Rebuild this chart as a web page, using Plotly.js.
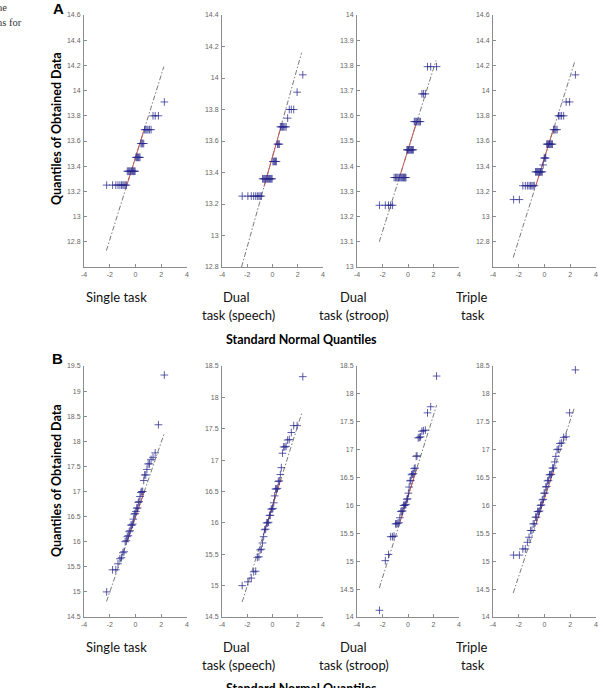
<!DOCTYPE html>
<html><head><meta charset="utf-8">
<script src="https://cdn.plot.ly/plotly-3.0.1.min.js"></script>
<style>html,body{margin:0;padding:0;background:#fff}#chart{width:603px;height:688px}</style>
</head><body><div id="chart"></div><script>
// Theoretical quantile positions
const q40 = [-2.24,-1.78,-1.53,-1.36,-1.21,-1.09,-0.98,-0.89,-0.80,-0.71,-0.64,-0.56,-0.49,-0.42,-0.35,-0.28,-0.22,-0.16,-0.09,-0.03,
             0.03,0.09,0.16,0.22,0.28,0.35,0.42,0.49,0.56,0.64,0.71,0.80,0.89,0.98,1.09,1.21,1.36,1.53,1.78,2.24];
const qWide = [-2.40,-1.95,-1.68,-1.49,-1.33,-1.20,-1.08,-0.98,-0.88,-0.79,-0.70,-0.62,-0.54,-0.46,-0.39,-0.31,-0.24,-0.17,-0.10,-0.03,
               0.03,0.10,0.17,0.24,0.31,0.39,0.46,0.54,0.62,0.70,0.79,0.88,0.98,1.08,1.20,1.33,1.49,1.68,1.95,2.40];

// Row A: quantiles of obtained data
const yA1 = [13.25,13.25,13.25,13.25,13.25,13.25,13.25,13.25,13.25,13.25,
             13.36,13.36,13.36,13.36,13.36,13.36,13.36,13.36,13.36,13.36,
             13.47,13.47,13.47,13.47,13.47,13.47,13.58,13.58,13.58,13.58,
             13.69,13.69,13.69,13.69,13.69,13.69,13.80,13.80,13.80,13.91];
const yA2 = [13.25,13.25,13.25,13.25,13.25,13.25,13.25,13.25,13.25,
             13.36,13.36,13.36,13.36,13.36,13.36,13.36,13.36,13.36,13.36,13.36,
             13.47,13.47,13.47,13.47,13.47,13.58,13.58,13.58,
             13.69,13.69,13.69,13.69,13.69,13.69,13.745,13.80,13.80,13.80,13.91,14.02];
const yA3 = [13.245,13.245,13.245,13.245,13.245,
             13.355,13.355,13.355,13.355,13.355,13.355,13.355,13.355,13.355,13.355,13.355,13.355,13.355,
             13.465,13.465,13.465,13.465,13.465,13.465,13.465,13.465,13.465,
             13.577,13.577,13.577,13.577,13.577,13.577,13.577,
             13.687,13.687,13.687,13.795,13.795,13.795];
const yA4 = [13.135,13.135,13.245,13.245,13.245,13.245,13.245,13.245,13.245,13.245,
             13.355,13.355,13.355,13.355,13.355,13.355,13.355,13.355,13.41,
             13.465,13.465,13.465,13.575,13.575,13.575,13.575,13.575,13.575,13.575,
             13.69,13.69,13.69,13.69,13.80,13.80,13.80,13.80,13.91,13.91,14.125];
// Row B
const yB1 = [15.00,15.44,15.44,15.56,15.66,15.68,15.78,15.80,16.00,16.02,
             16.10,16.12,16.20,16.22,16.33,16.33,16.35,16.45,16.55,16.56,
             16.60,16.67,16.67,16.78,16.80,16.90,16.98,17.00,17.00,17.22,
             17.33,17.33,17.44,17.55,17.55,17.64,17.68,17.77,18.33,19.32];
const yB2 = [15.00,15.06,15.12,15.22,15.23,15.45,15.46,15.57,15.58,15.68,
             15.78,15.89,15.90,16.00,16.00,16.01,16.12,16.12,16.22,16.22,
             16.23,16.32,16.43,16.54,16.54,16.55,16.66,16.67,16.77,16.88,
             17.11,17.21,17.21,17.22,17.32,17.33,17.44,17.55,17.55,18.33];
const yB3 = [14.12,15.01,15.12,15.44,15.44,15.45,15.67,15.67,15.68,15.69,
             15.78,15.89,15.90,15.90,16.00,16.00,16.01,16.02,16.11,16.12,
             16.22,16.33,16.44,16.45,16.55,16.56,16.57,16.66,16.67,16.88,
             16.89,17.21,17.22,17.23,17.33,17.34,17.35,17.66,17.77,18.32];
const yB4 = [15.11,15.11,15.22,15.22,15.34,15.43,15.55,15.55,15.67,15.67,
             15.79,15.79,15.89,15.89,15.90,16.00,16.01,16.10,16.11,16.22,
             16.22,16.33,16.34,16.44,16.45,16.55,16.55,16.56,16.67,16.67,
             16.78,16.88,17.00,17.01,17.11,17.12,17.22,17.23,17.66,18.43];

// Reference lines: dash-dot extent and red Q1-Q3 segment
const lineXA1 = [-2.26, 2.20], lineYA1 = [12.73, 14.19], redYA1 = [13.25, 13.69];
const lineXA2 = [-2.45, 2.30], lineYA2 = [12.80, 14.16], redYA2 = [13.31, 13.69];
const lineXA3 = [-2.25, 2.20], lineYA3 = [13.10, 13.82], redYA3 = [13.355, 13.575];
const lineXA4 = [-2.43, 2.38], lineYA4 = [12.675, 14.24], redYA4 = [13.245, 13.69];
const lineXB1 = [-2.25, 2.25], lineYB1 = [14.81, 18.17], redYB1 = [15.99, 16.99];
const lineXB2 = [-2.40, 2.30], lineYB2 = [14.74, 17.74], redYB2 = [15.84, 16.70];
const lineXB3 = [-2.25, 2.25], lineYB3 = [14.52, 17.80], redYB3 = [15.67, 16.65];
const lineXB4 = [-2.43, 2.33], lineYB4 = [14.43, 17.76], redYB4 = [15.66, 16.60];
const redX = [-0.674, 0.674];

// Axis ranges and ticks
const xTicks = [-4,-2,0,2,4];
const xTickText = ['-4','-2','0','2','4'];
const yRangeA1 = [12.6,14.6], yTicksA1 = [12.8,13,13.2,13.4,13.6,13.8,14,14.2,14.4,14.6];
const yRangeA2 = [12.8,14.4], yTicksA2 = [12.8,13,13.2,13.4,13.6,13.8,14,14.2,14.4];
const yRangeA3 = [13,14],     yTicksA3 = [13,13.1,13.2,13.3,13.4,13.5,13.6,13.7,13.8,13.9,14];
const yRangeA4 = [12.6,14.6], yTicksA4 = [12.8,13,13.2,13.4,13.6,13.8,14,14.2,14.4,14.6];
const yRangeB1 = [14.5,19.5], yTicksB1 = [14.5,15,15.5,16,16.5,17,17.5,18,18.5,19,19.5];
const yRangeB2 = [14.5,18.5], yTicksB2 = [14.5,15,15.5,16,16.5,17,17.5,18,18.5];
const yRangeB3 = [14,18.5],   yTicksB3 = [14,14.5,15,15.5,16,16.5,17,17.5,18,18.5];
const yRangeB4 = [14,18.5],   yTicksB4 = [14,14.5,15,15.5,16,16.5,17,17.5,18,18.5];

const taskLine1 = ['Single task','Dual','Dual','Triple'];
const taskLine2 = ['','task (speech)','task (stroop)','task'];
const xTitle = 'Standard Normal Quantiles';
const yTitle = 'Quantiles of Obtained Data';

const W = 603, H = 688;
const px = v => v / W, py = v => 1 - v / H;
const colPx = [[84,187],[222,323],[357,459],[493,596]];
const rowPx = [[15,267],[366,617]];

const panels = [
  {x:q40,   y:yA1, lx:lineXA1, ly:lineYA1, ry:redYA1, yr:yRangeA1, yt:yTicksA1, r:0, c:0},
  {x:qWide, y:yA2, lx:lineXA2, ly:lineYA2, ry:redYA2, yr:yRangeA2, yt:yTicksA2, r:0, c:1},
  {x:q40,   y:yA3, lx:lineXA3, ly:lineYA3, ry:redYA3, yr:yRangeA3, yt:yTicksA3, r:0, c:2},
  {x:qWide, y:yA4, lx:lineXA4, ly:lineYA4, ry:redYA4, yr:yRangeA4, yt:yTicksA4, r:0, c:3},
  {x:q40,   y:yB1, lx:lineXB1, ly:lineYB1, ry:redYB1, yr:yRangeB1, yt:yTicksB1, r:1, c:0},
  {x:qWide, y:yB2, lx:lineXB2, ly:lineYB2, ry:redYB2, yr:yRangeB2, yt:yTicksB2, r:1, c:1},
  {x:q40,   y:yB3, lx:lineXB3, ly:lineYB3, ry:redYB3, yr:yRangeB3, yt:yTicksB3, r:1, c:2},
  {x:qWide, y:yB4, lx:lineXB4, ly:lineYB4, ry:redYB4, yr:yRangeB4, yt:yTicksB4, r:1, c:3},
];

const traces = [];
const layout = {
  width: W, height: H, margin:{l:0,r:0,t:0,b:0},
  paper_bgcolor:'#fff', plot_bgcolor:'#fff', showlegend:false,
  font:{family:'Liberation Sans, Arial, sans-serif'},
  annotations: []
};
const tickFont = {family:'Liberation Sans, Arial, sans-serif', size:7, color:'#666'};

panels.forEach((p, i) => {
  const n = i + 1;
  const xa = n === 1 ? 'x' : 'x' + n, ya = n === 1 ? 'y' : 'y' + n;
  traces.push({type:'scatter', mode:'lines', x:p.lx, y:p.ly, xaxis:xa, yaxis:ya,
    line:{color:'#7a7a7a', width:1, dash:'5px,2px,1.5px,2px'}, hoverinfo:'skip'});
  traces.push({type:'scatter', mode:'lines', x:redX,
    y:p.ry, xaxis:xa, yaxis:ya,
    line:{color:'#c25a55', width:1}, hoverinfo:'skip'});
  traces.push({type:'scatter', mode:'markers', x:p.x, y:p.y, xaxis:xa, yaxis:ya,
    marker:{symbol:'cross-thin', size:5.5, line:{width:1, color:'rgba(40,40,140,0.75)'}}, hoverinfo:'skip'});
  const common = {showgrid:false, zeroline:false, showline:true, linecolor:'#8c8c8c', linewidth:1,
    ticks:'inside', ticklen:3, tickcolor:'#8c8c8c', tickfont:tickFont, fixedrange:true};
  layout['xaxis' + (n===1?'':n)] = Object.assign({}, common, {
    domain:[px(colPx[p.c][0]), px(colPx[p.c][1])], range:[-4,4],
    tickvals:xTicks, ticktext:xTickText, anchor:ya, ticklabelstandoff:1});
  layout['yaxis' + (n===1?'':n)] = Object.assign({}, common, {
    domain:[py(rowPx[p.r][1]), py(rowPx[p.r][0])], range:p.yr,
    tickvals:p.yt, anchor:xa, ticklabelstandoff:1});
});

const ann = (text, x, y, opts) => layout.annotations.push(Object.assign({
  text, x:px(x), y:py(y), xref:'paper', yref:'paper', showarrow:false,
  xanchor:'center', yanchor:'middle',
  font:{family:'Lato, Open Sans, sans-serif', size:12.5, color:'#111'}}, opts||{}));

// Panel letters
ann('<b>A</b>', 58, 8, {font:{family:'Liberation Sans, Arial', size:15, color:'#000'}});
ann('<b>B</b>', 57, 358, {font:{family:'Liberation Sans, Arial', size:15, color:'#000'}});
// Cropped caption fragments at top-left
ann('he', 9, 7, {xanchor:'right', font:{family:'Liberation Serif, Times New Roman, serif', size:10.5, color:'#333'}});
ann('ns for', 24, 22, {xanchor:'right', font:{family:'Liberation Serif, Times New Roman, serif', size:10.5, color:'#333'}});
// Y titles
ann('<b>' + yTitle + '</b>', 56, 128, {textangle:-90, font:{family:'Lato, sans-serif', size:12.5, color:'#000'}});
ann('<b>' + yTitle + '</b>', 56, 480, {textangle:-90, font:{family:'Lato, sans-serif', size:12.5, color:'#000'}});
// Task labels
const l1x = [116, 236, 353, 471], l2x = [116, 238, 354, 473];
[[297, 315, 339], [647, 665, 689]].forEach(([y1, y2, yt]) => {
  for (let k = 0; k < 4; k++) {
    ann(taskLine1[k], l1x[k], y1, {font:{family:'Lato, Open Sans, sans-serif', size:13, color:'#111'}});
    if (taskLine2[k]) ann(taskLine2[k], l2x[k], y2, {font:{family:'Lato, Open Sans, sans-serif', size:13, color:'#111'}});
  }
  ann('<b>' + xTitle + '</b>', 301, yt, {font:{family:'Lato, sans-serif', size:12.5, color:'#000'}});
});

Plotly.newPlot('chart', traces, layout, {staticPlot:true, displayModeBar:false});
</script></body></html>
